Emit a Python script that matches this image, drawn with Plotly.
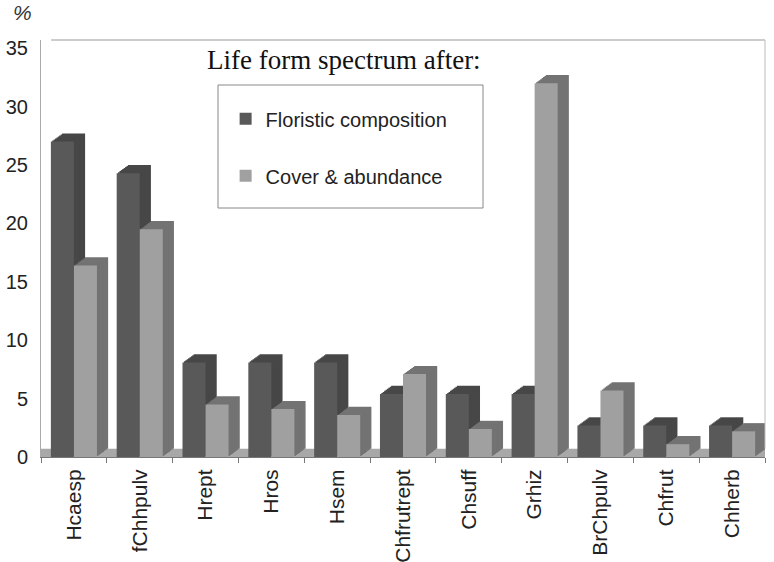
import plotly.graph_objects as go

categories = ["Hcaesp", "fChhpulv", "Hrept", "Hros", "Hsem", "Chfrutrept",
              "Chsuff", "Grhiz", "BrChpulv", "Chfrut", "Chherb"]
floristic = [27.0, 24.3, 8.1, 8.1, 8.1, 5.4, 5.4, 5.4, 2.7, 2.7, 2.7]
cover = [16.4, 19.5, 4.5, 4.1, 3.6, 7.1, 2.4, 32.0, 5.7, 1.1, 2.2]
series_names = ["Floristic composition", "Cover & abundance"]
y_ticks = [0, 5, 10, 15, 20, 25, 30, 35]

# pseudo-3D styling
BAR_W = 0.35
DX = 0.17      # depth offset in category units
DY = 0.7       # depth offset in data units
STEPS = 8
front_cols = ["#595959", "#a0a0a0"]
depth_cols = ["#474747", "#737373"]
offsets = [-0.35, 0.0]

fig = go.Figure()
for i, vals in enumerate([floristic, cover]):
    # depth (side + top faces) drawn behind, as a fine staircase
    for k in range(STEPS, 0, -1):
        f = k / STEPS
        fig.add_trace(go.Bar(
            x=categories, y=vals, base=[DY * f] * len(vals),
            offset=offsets[i] + DX * f, width=BAR_W,
            marker=dict(color=depth_cols[i], line=dict(width=0)),
            showlegend=False, hoverinfo="skip"))
    # front face
    fig.add_trace(go.Bar(
        x=categories, y=vals, name=series_names[i],
        offset=offsets[i], width=BAR_W,
        legendgroup=series_names[i],
        marker=dict(color=front_cols[i], line=dict(width=0))))

fig.update_layout(
    width=774, height=562,
    margin=dict(l=41, r=9, t=40, b=105, autoexpand=False),
    paper_bgcolor="white", plot_bgcolor="white",
    barmode="overlay",
    font=dict(family="Liberation Sans, Arial", color="#222222"),
    showlegend=True,
    legend=dict(x=0.255, y=0.858, xanchor="left", yanchor="top",
                bgcolor="rgba(0,0,0,0)", borderwidth=0,
                traceorder="grouped", tracegroupgap=28,
                font=dict(size=20, color="#222222")),
    xaxis=dict(type="category", showline=True, linecolor="#777777", linewidth=1,
               ticks="outside", tickson="boundaries", ticklen=5, tickcolor="#777777",
               tickangle=-90, tickfont=dict(size=21, color="#222222"),
               ticklabelstandoff=3, automargin=False,
               showgrid=False, range=[-0.5, len(categories) - 0.5]),
    yaxis=dict(range=[0, 35.7], tickvals=y_ticks, showgrid=False,
               showline=True, linecolor="#aaaaaa", linewidth=1,
               ticks="", ticklabelstandoff=8, automargin=False,
               tickfont=dict(size=20, color="#222222"), zeroline=False),
    shapes=[
        # floor strip
        dict(type="rect", xref="paper", yref="y", x0=0, x1=1, y0=0, y1=DY,
             fillcolor="#a8a8a8", line=dict(width=0), layer="below"),
        # back wall outline
        dict(type="line", xref="paper", yref="paper", x0=0.014, x1=1, y0=1, y1=1,
             line=dict(color="#999999", width=1)),
        dict(type="line", xref="paper", yref="paper", x0=1, x1=1, y0=0.02, y1=1,
             line=dict(color="#bbbbbb", width=1)),
        # legend box
        dict(type="rect", xref="paper", yref="paper",
             x0=(218 - 41) / 724, x1=(483 - 41) / 724,
             y0=(457 - 208) / 417, y1=(457 - 85) / 417,
             line=dict(color="#888888", width=1), fillcolor="rgba(0,0,0,0)"),
    ],
    annotations=[
        dict(text="Life form spectrum after:", xref="paper", yref="paper",
             x=(344 - 41) / 724, y=(457 - 60) / 417, xanchor="center", yanchor="middle",
             showarrow=False,
             font=dict(family="Liberation Serif, Times New Roman", size=27, color="#111111")),
        dict(text="<i>%</i>", xref="paper", yref="paper",
             x=(22 - 41) / 724, y=(457 - 13) / 417, xanchor="center", yanchor="middle",
             showarrow=False, font=dict(size=21, color="#333333")),
    ],
)

fig.write_html("out.html")
